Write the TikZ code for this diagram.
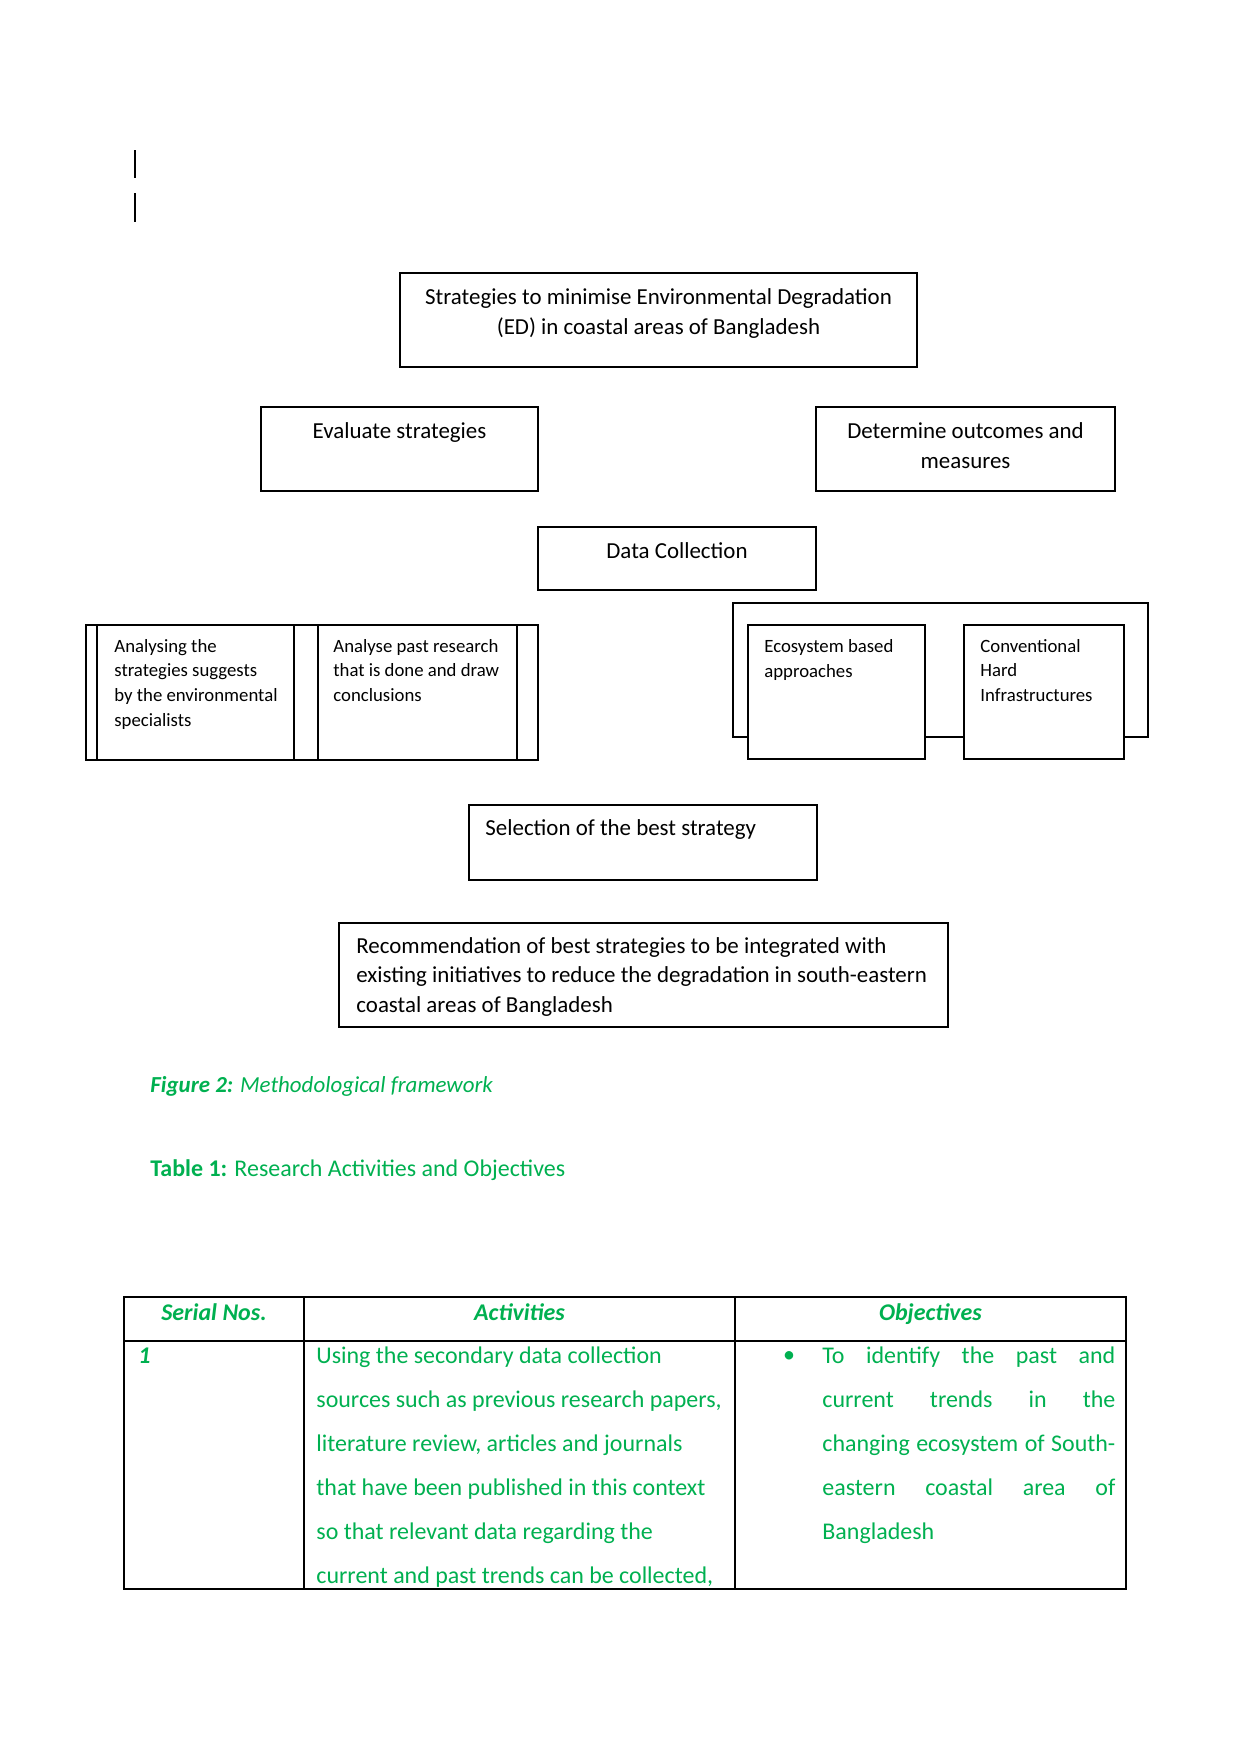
\documentclass[tikz,border=0pt]{standalone}
\usepackage{fontspec}
\setmainfont{Carlito}
\definecolor{wgreen}{RGB}{0,176,80}
\begin{document}
\begin{tikzpicture}[x=0.48pt,y=-0.48pt,
  box/.style={draw, line width=0.65pt, fill=white, inner sep=0pt, outer sep=0pt},
  big/.style={font=\fontsize{11}{14.4}\selectfont, inner sep=0pt},
  small/.style={font=\fontsize{9}{11.8}\selectfont, inner sep=0pt, align=left},
  gtext/.style={text=wgreen, inner sep=0pt, font=\fontsize{11.5}{21.1}\selectfont},
  hdr/.style={gtext, font=\bfseries\itshape\fontsize{11.5}{14}\selectfont},
  tline/.style={line width=0.6pt},
  bar/.style={line width=1pt},
]
\newcommand\mybox[5]{\node[box, anchor=north west, minimum width={(#4-#2)*0.48pt}, minimum height={(#5-#3)*0.48pt}] (#1) at (#2,#3) {};}
\useasboundingbox (0,0) rectangle (1241,1754);

% cursor bars
\draw[bar] (135,150) -- (135,178);
\draw[bar] (135,193) -- (135,222);

% main boxes (multi-line texts anchored at the baseline of their last line)
\mybox{top}{400}{273}{917}{367}
\node[big, anchor=base, align=center] (toptext) at (658.5,334.5) {Strategies to minimise Environmental Degradation\\(ED) in coastal areas of Bangladesh};

\mybox{eval}{261}{407}{538}{491}
\node[big, anchor=base] (evaltext) at (399.5,438.5) {Evaluate strategies};

\mybox{det}{816}{407}{1115}{491}
\node[big, anchor=base, align=center] (dettext) at (965.5,468.5) {Determine outcomes and\\measures};

\mybox{data}{538}{527}{816}{590}
\node[big, anchor=base] (datatext) at (677,558.5) {Data Collection};

% left group
\mybox{lgroup}{86}{625}{538}{760}
\mybox{anA}{97}{625}{294}{760}
\mybox{anB}{318}{625}{517}{760}
\node[small, anchor=base west] (anAtext) at (114,726) {Analysing the\\strategies suggests\\by the environmental\\specialists};
\node[small, anchor=base west] (anBtext) at (333,701.5) {Analyse past research\\that is done and draw\\conclusions};

% right group
\mybox{rgroup}{733}{603}{1148}{737}
\mybox{eco}{748}{625}{925}{759}
\mybox{conv}{964}{625}{1124}{759}
\node[small, anchor=base west] (ecotext) at (764,677) {Ecosystem based\\approaches};
\node[small, anchor=base west] (convtext) at (980,701.5) {Conventional\\Hard\\Infrastructures};

% selection
\mybox{sel}{469}{805}{817}{880}
\node[big, anchor=base west] (seltext) at (485,835.5) {Selection of the best strategy};

% recommendation
\mybox{rec}{339}{923}{948}{1027}
\node[big, anchor=base west, align=left, font=\fontsize{11}{14.2}\selectfont] (rectext) at (356,1012.5) {Recommendation of best strategies to be integrated with\\existing initiatives to reduce the degradation in south-eastern\\coastal areas of Bangladesh};

% captions
\node[gtext, anchor=base west, font=\fontsize{11}{13}\selectfont] (figcap) at (150,1092.5) {\textbf{\textit{Figure 2:}} \textit{Methodological framework}};
\node[gtext, anchor=base west] (tabcap) at (150,1176.5) {\textbf{Table 1:} Research Activities and Objectives};

% table
\draw[tline] (124,1297) rectangle (1126,1589);
\draw[tline] (124,1341) -- (1126,1341);
\draw[tline] (304,1297) -- (304,1589);
\draw[tline] (735,1297) -- (735,1589);

\node[hdr, anchor=base] (h1) at (214,1320.5) {Serial Nos.};
\node[hdr, anchor=base] (h2) at (519.5,1320.5) {Activities};
\node[hdr, anchor=base] (h3) at (930.5,1320.5) {Objectives};

\node[hdr, anchor=base west] (n1) at (138,1363.5) {1};
\node[gtext, anchor=base west, align=left] (act) at (316,1583.5) {Using the secondary data collection\\sources such as previous research papers,\\literature review, articles and journals\\that have been published in this context\\so that relevant data regarding the\\current and past trends can be collected,};
\node[gtext, anchor=center] (bul) at (789,1357) {\textbullet};
\node[gtext, anchor=base west, align=left] (obj) at (822,1539.5) {\makebox[140.6pt][s]{To identify the past and}\\\makebox[140.6pt][s]{current trends in the}\\\makebox[140.6pt][s]{changing ecosystem of South-}\\\makebox[140.6pt][s]{eastern coastal area of}\\Bangladesh};
\end{tikzpicture}
\end{document}
